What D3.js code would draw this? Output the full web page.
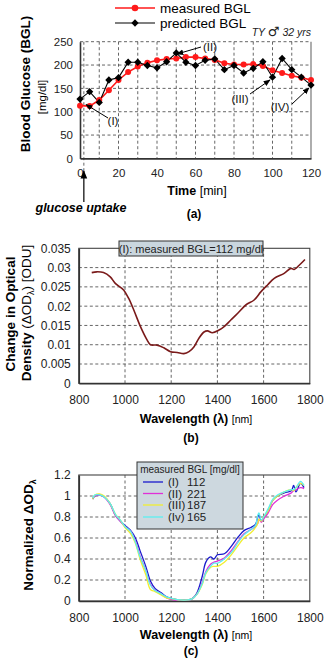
<!DOCTYPE html>
<html><head><meta charset="utf-8">
<script src="https://cdn.jsdelivr.net/npm/d3@7"></script>
<style>
html,body{margin:0;padding:0;background:#fff;}
svg{display:block;font-family:"Liberation Sans",Arial,sans-serif;}
</style></head>
<body><svg id="c" width="325" height="659"></svg>
<script>
// ---------- Panel (a) data ----------
const timeMin = [0,5,10,15,20,25,30,35,40,45,50,55,60,65,70,75,80,85,90,95,100,105,110,115,120];
const measuredBGL = [113,112,125,146,168,185,197,205,210,213,214,217,217,214,211,204,201,201,202,198,189,183,177,173,168];
const predictedBGL = [127,143,120,168,173,206,206,199,194,207,226,206,199,210,213,190,199,183,193,207,174,214,190,174,157];
const timeTicks = [0,20,40,60,80,100,120];
const bglTicks = [0,50,100,150,200,250];

// ---------- Panel (b) data ----------
const wavelengthB = [856,878,907,936,958,994,1016,1038,1067,1096,1110,1139,1168,1197,1226,1255,1277,1299,1320,1342,1357,1378,1407,1429,1458,1487,1523,1559,1588,1617,1646,1689,1718,1732,1754,1779];
const deltaOD = [0.0287,0.0289,0.0287,0.0276,0.0259,0.0242,0.0220,0.0190,0.0147,0.0112,0.0100,0.0099,0.0092,0.0082,0.0080,0.0077,0.0082,0.0095,0.0117,0.0133,0.0136,0.0131,0.0138,0.0147,0.0164,0.0181,0.0203,0.0216,0.0237,0.0255,0.0272,0.0285,0.0298,0.0295,0.0306,0.0321];
const odTicks = [0,0.005,0.01,0.015,0.02,0.025,0.03,0.035];
const odTickLabels = ["0","0.005","0.01","0.015","0.02","0.025","0.03","0.035"];
const wlTicks = [800,1000,1200,1400,1600,1800];

// ---------- Panel (c) data ----------
const wavelengthC = [860,870,890,910,935,960,980,1000,1025,1045,1065,1090,1110,1130,1155,1180,1210,1240,1270,1290,1310,1335,1350,1370,1385,1400,1430,1460,1490,1515,1545,1565,1575,1580,1590,1600,1620,1640,1660,1690,1720,1730,1740,1760,1775];
const normI   = [0.97,1.00,1.01,0.99,0.93,0.81,0.76,0.72,0.67,0.60,0.48,0.33,0.19,0.12,0.08,0.04,0.02,0.01,0.01,0.02,0.07,0.24,0.37,0.42,0.40,0.44,0.45,0.52,0.61,0.67,0.70,0.73,0.80,0.82,0.76,0.79,0.86,0.96,1.00,1.03,1.05,1.10,1.04,1.12,1.08];
const normII  = [0.98,1.00,1.01,0.99,0.92,0.81,0.76,0.71,0.66,0.57,0.43,0.29,0.16,0.10,0.07,0.03,0.01,0.01,0.01,0.02,0.06,0.18,0.28,0.35,0.37,0.38,0.41,0.48,0.57,0.64,0.68,0.71,0.74,0.78,0.75,0.78,0.84,0.92,0.96,1.00,1.03,1.05,1.06,1.08,1.07];
const normIII = [0.97,1.01,1.02,1.00,0.93,0.82,0.77,0.70,0.64,0.55,0.40,0.25,0.11,0.09,0.06,0.03,0.02,0.01,0.01,0.02,0.06,0.16,0.26,0.32,0.33,0.33,0.37,0.44,0.53,0.60,0.65,0.70,0.74,0.78,0.76,0.80,0.86,0.96,1.00,1.04,1.06,1.05,1.08,1.12,1.10];
const normIV  = [0.98,1.01,1.01,0.99,0.93,0.82,0.77,0.71,0.66,0.56,0.42,0.29,0.15,0.10,0.07,0.04,0.02,0.01,0.01,0.02,0.06,0.17,0.27,0.33,0.36,0.36,0.40,0.46,0.56,0.63,0.68,0.72,0.82,0.84,0.77,0.80,0.88,0.97,1.01,1.04,1.06,1.06,1.08,1.14,1.10];
const seriesLabels = ["(I)","(II)","(III)","(Iv)"];
const seriesBGL = ["112","221","187","165"];
const normTicks = [0,0.2,0.4,0.6,0.8,1,1.2];

const svg = d3.select("#c");
const defs = svg.append("defs");
defs.append("marker").attr("id","ah").attr("viewBox","0 0 10 10").attr("refX",9).attr("refY",5)
  .attr("markerWidth",7).attr("markerHeight",7).attr("orient","auto-start-reverse")
  .append("path").attr("d","M0,1 L10,5 L0,9 z").attr("fill","#000");

const gridStyle = s => s.attr("stroke","#555").attr("stroke-width",0.9).attr("stroke-dasharray","3,2.5");

// ================= Panel (a) =================
{
  const g = svg.append("g");
  const x = d3.scaleLinear().domain([0,120]).range([80,311]);
  const y = d3.scaleLinear().domain([0,250]).range([158.4,41.7]);
  const vg = d3.range(10,120,10);
  g.selectAll(".vg").data(vg).join("line").attr("x1",d=>x(d)).attr("x2",d=>x(d)).attr("y1",y(250)).attr("y2",y(0)).call(gridStyle);
  g.selectAll(".hg").data(bglTicks.slice(1)).join("line").attr("x1",x(0)).attr("x2",x(120)).attr("y1",d=>y(d)).attr("y2",d=>y(d)).call(gridStyle);
  g.append("line").attr("x1",x(2)).attr("x2",x(2)).attr("y1",y(250)).attr("y2",172).call(gridStyle);
  g.append("line").attr("x1",x(120)).attr("x2",x(120)).attr("y1",y(250)).attr("y2",y(0)).attr("stroke","#777").attr("stroke-width",1.2);
  const ya = d3.axisLeft(y).tickValues(bglTicks).tickSize(0).tickPadding(7);
  g.append("g").attr("transform",`translate(${x(0)},0)`).call(ya)
    .call(a=>{a.select(".domain").attr("stroke","#333").attr("stroke-width",1.6);a.selectAll("text").attr("font-size",11.5).attr("fill","#222").attr("font-family","Liberation Sans, Arial");});
  const xa = d3.axisBottom(x).tickValues(timeTicks).tickFormat(d3.format("d")).tickSize(0).tickPadding(10);
  g.append("g").attr("transform",`translate(0,${y(0)})`).call(xa)
    .call(a=>{a.select(".domain").attr("stroke","#333").attr("stroke-width",1.6);a.selectAll("text").attr("font-size",11.5).attr("fill","#222").attr("font-family","Liberation Sans, Arial");});
  const lm = d3.line().x((d,i)=>x(timeMin[i])).y(d=>y(d));
  g.append("path").attr("d",lm(measuredBGL)).attr("fill","none").attr("stroke","#ff1a1a").attr("stroke-width",1.6);
  g.append("path").attr("d",lm(predictedBGL)).attr("fill","none").attr("stroke","#000").attr("stroke-width",1.1);
  g.selectAll(".mc").data(measuredBGL).join("circle").attr("cx",(d,i)=>x(timeMin[i])).attr("cy",d=>y(d)).attr("r",3).attr("fill","#ff1a1a");
  const dia = d3.symbol().type(d3.symbolDiamond2).size(34);
  g.selectAll(".pd").data(predictedBGL).join("path").attr("d",dia).attr("transform",(d,i)=>`translate(${x(timeMin[i])},${y(d)})`).attr("fill","#000");
  // legend
  g.append("line").attr("x1",115).attr("x2",155).attr("y1",8).attr("y2",8).attr("stroke","#ff1a1a").attr("stroke-width",1.6);
  g.append("circle").attr("cx",135).attr("cy",8).attr("r",3.3).attr("fill","#ff1a1a");
  g.append("text").attr("x",160).attr("y",12.5).attr("font-size",13.5).text("measured BGL");
  g.append("line").attr("x1",115).attr("x2",155).attr("y1",23).attr("y2",23).attr("stroke","#000").attr("stroke-width",1.1);
  g.append("path").attr("d",dia).attr("transform","translate(135,23)").attr("fill","#000");
  g.append("text").attr("x",160).attr("y",27.5).attr("font-size",13.5).text("predicted BGL");
  const ty = g.append("text").attr("x",311).attr("y",36).attr("text-anchor","end").attr("font-size",10.5).attr("font-style","italic").attr("fill","#222");
  ty.append("tspan").text("TY ");
  ty.append("tspan").attr("font-size",13).attr("font-family","DejaVu Sans").text("\u2642");
  ty.append("tspan").text("  32 yrs");
  const ann = (tx,ty,label,x1,y1,x2,y2)=>{
    g.append("text").attr("x",tx).attr("y",ty).attr("text-anchor","middle").attr("font-size",11.5).attr("fill","#111").text(label);
    g.append("line").attr("x1",x1).attr("y1",y1).attr("x2",x2).attr("y2",y2).attr("stroke","#000").attr("stroke-width",1).attr("marker-end","url(#ah)");
  };
  ann(113,125,"(I)",108,118,86,104.5);
  ann(210,51,"(II)",201,47,177,54);
  ann(240,103,"(III)",250,94,270,80);
  ann(280,111,"(IV)",292,104,309,88);
  g.append("text").attr("transform","translate(30,84) rotate(-90)").attr("text-anchor","middle").attr("font-size",13.5).attr("font-weight","bold").text("Blood Glucose (BGL)");
  g.append("text").attr("transform","translate(46,97) rotate(-90)").attr("text-anchor","middle").attr("font-size",11.5).text("[mg/dl]");
  const tt = g.append("text").attr("x",197).attr("y",195).attr("text-anchor","middle").attr("font-size",12.5);
  tt.append("tspan").attr("font-weight","bold").text("Time ");
  tt.append("tspan").text("[min]");
  g.append("line").attr("x1",x(2)).attr("x2",x(2)).attr("y1",202).attr("y2",171).attr("stroke","#000").attr("stroke-width",1.2).attr("marker-end","url(#ah)");
  g.append("text").attr("x",81).attr("y",212).attr("text-anchor","middle").attr("font-size",12.5).attr("font-weight","bold").attr("font-style","italic").text("glucose uptake");
  g.append("text").attr("x",194).attr("y",218).attr("text-anchor","middle").attr("font-size",12).attr("font-weight","bold").text("(a)");
}

function spectrumFrame(g,x,y,yTicks,yLabels,hgrid){
  g.selectAll(".vg").data([1000,1200,1400,1600]).join("line").attr("x1",d=>x(d)).attr("x2",d=>x(d)).attr("y1",y.range()[1]).attr("y2",y.range()[0]).call(gridStyle);
  g.selectAll(".hg").data(hgrid).join("line").attr("x1",x(800)).attr("x2",x(1800)).attr("y1",d=>y(d)).attr("y2",d=>y(d)).call(gridStyle);
  g.append("rect").attr("x",x(800)).attr("y",y.range()[1]).attr("width",x(1800)-x(800)).attr("height",y.range()[0]-y.range()[1]).attr("fill","none").attr("stroke","#444").attr("stroke-width",1.1);
  const ya = d3.axisLeft(y).tickValues(yTicks).tickFormat((d,i)=>yLabels[i]).tickSize(0).tickPadding(8);
  g.append("g").attr("transform",`translate(${x(800)},0)`).call(ya)
    .call(a=>{a.select(".domain").attr("stroke","#333").attr("stroke-width",1.6);a.selectAll("text").attr("font-size",12).attr("fill","#222").attr("font-family","Liberation Sans, Arial");});
  const xa = d3.axisBottom(x).tickValues(wlTicks).tickFormat(d3.format("d")).tickSize(0).tickPadding(12);
  g.append("g").attr("transform",`translate(0,${y.range()[0]})`).call(xa)
    .call(a=>{a.select(".domain").attr("stroke","#333").attr("stroke-width",1.6);a.selectAll("text").attr("font-size",12).attr("fill","#222").attr("font-family","Liberation Sans, Arial");});
}
function wlTitle(g,yb){
  const t = g.append("text").attr("x",196).attr("y",yb).attr("text-anchor","middle").attr("font-size",12.5);
  t.append("tspan").attr("font-weight","bold").text("Wavelength (\u03bb) ");
  t.append("tspan").attr("font-size",10.5).text("[nm]");
}

// ================= Panel (b) =================
{
  const g = svg.append("g");
  const x = d3.scaleLinear().domain([800,1800]).range([78.8,309.8]);
  const y = d3.scaleLinear().domain([0,0.035]).range([383.3,248.3]);
  spectrumFrame(g,x,y,odTicks,odTickLabels,odTicks.slice(1,7));
  const ln = d3.line().x((d,i)=>x(wavelengthB[i])).y(d=>y(d)).curve(d3.curveCatmullRom.alpha(0.5));
  g.append("path").attr("d",ln(deltaOD)).attr("fill","none").attr("stroke","#7a1a1a").attr("stroke-width",1.6);
  g.append("rect").attr("x",119).attr("y",241).attr("width",144).attr("height",15).attr("fill","#cad6de").attr("stroke","#333").attr("stroke-width",1);
  g.append("text").attr("x",191).attr("y",252.5).attr("text-anchor","middle").attr("font-size",11).attr("fill","#222").text("(I): measured BGL=112 mg/dl");
  g.append("text").attr("transform","translate(15,314) rotate(-90)").attr("text-anchor","middle").attr("font-size",13.5).attr("font-weight","bold").text("Change in Optical");
  const t2 = g.append("text").attr("transform","translate(31,313) rotate(-90)").attr("text-anchor","middle").attr("font-size",13.5);
  t2.append("tspan").attr("font-weight","bold").text("Density ");
  t2.append("tspan").text("(\u0394OD");
  t2.append("tspan").attr("font-size",9).attr("dy",3).text("\u03bb");
  t2.append("tspan").attr("dy",-3).text(") [ODU]");
  wlTitle(g,423);
  g.append("text").attr("x",191).attr("y",442).attr("text-anchor","middle").attr("font-size",12).attr("font-weight","bold").text("(b)");
}

// ================= Panel (c) =================
{
  const g = svg.append("g");
  const x = d3.scaleLinear().domain([800,1800]).range([78.8,309.8]);
  const y = d3.scaleLinear().domain([0,1.2]).range([601,475]);
  spectrumFrame(g,x,y,normTicks,normTicks.map(d=>String(d)),normTicks.slice(1,6));
  const colors = ["#1a1acc","#e030d8","#f2ee30","#5cf0f0"];
  const sets = [normI,normII,normIII,normIV];
  const ln = d3.line().x((d,i)=>x(wavelengthC[i])).y(d=>y(d)).curve(d3.curveCatmullRom.alpha(0.5));
  sets.forEach((s,k)=>{
    g.append("path").attr("d",ln(s)).attr("fill","none").attr("stroke",colors[k]).attr("stroke-width",1.3);
  });
  g.append("rect").attr("x",137).attr("y",462).attr("width",106).attr("height",67).attr("fill","#cdd8df").attr("stroke","#333").attr("stroke-width",1);
  g.append("text").attr("x",190).attr("y",473).attr("text-anchor","middle").attr("font-size",10).attr("fill","#222").text("measured BGL [mg/dl]");
  const ly = [482,493.5,505,517];
  seriesLabels.forEach((lab,k)=>{
    g.append("line").attr("x1",143).attr("x2",163).attr("y1",ly[k]).attr("y2",ly[k]).attr("stroke",colors[k]).attr("stroke-width",1.3);
    g.append("text").attr("x",168).attr("y",ly[k]+4).attr("font-size",11.5).attr("fill","#222").text(lab);
    g.append("text").attr("x",187).attr("y",ly[k]+4).attr("font-size",11.5).attr("fill","#222").text(seriesBGL[k]);
  });
  const t = g.append("text").attr("transform","translate(33,535) rotate(-90)").attr("text-anchor","middle").attr("font-size",13.5).attr("font-weight","bold");
  t.append("tspan").text("Normalized \u0394OD");
  t.append("tspan").attr("font-size",9).attr("dy",3).text("\u03bb");
  wlTitle(g,639);
  g.append("text").attr("x",191).attr("y",655).attr("text-anchor","middle").attr("font-size",12).attr("font-weight","bold").text("(c)");
}
</script></body></html>
